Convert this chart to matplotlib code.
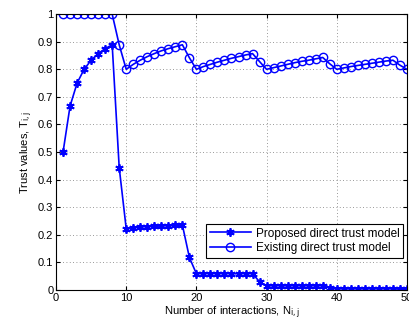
import matplotlib
matplotlib.use("Agg")
import matplotlib.pyplot as plt
import numpy as np

plt.rcParams['font.family'] = ['Liberation Sans', 'DejaVu Sans']

# number of interactions
n = np.arange(1, 51)

# proposed direct trust model
proposed = [0.500, 0.667, 0.750, 0.800, 0.833, 0.857, 0.875, 0.889, 0.444, 0.222,
            0.226, 0.228, 0.230, 0.231, 0.232, 0.233, 0.234, 0.236, 0.118, 0.059,
            0.059, 0.059, 0.059, 0.059, 0.059, 0.059, 0.059, 0.059, 0.030, 0.015,
            0.015, 0.015, 0.015, 0.015, 0.015, 0.015, 0.015, 0.015, 0.008, 0.004,
            0.004, 0.004, 0.004, 0.004, 0.004, 0.004, 0.004, 0.004, 0.003, 0.002]

# existing direct trust model
existing = [1.000, 1.000, 1.000, 1.000, 1.000, 1.000, 1.000, 1.000, 0.889, 0.800,
            0.818, 0.833, 0.846, 0.857, 0.867, 0.875, 0.882, 0.889, 0.842, 0.800,
            0.810, 0.818, 0.826, 0.833, 0.840, 0.846, 0.852, 0.857, 0.828, 0.800,
            0.806, 0.812, 0.818, 0.824, 0.829, 0.833, 0.838, 0.843, 0.820, 0.800,
            0.805, 0.810, 0.814, 0.818, 0.822, 0.826, 0.830, 0.833, 0.815, 0.800]

fig = plt.figure(figsize=(4.09, 3.29), dpi=100)
ax = fig.add_axes([0.137, 0.1185, 0.858, 0.8385])

# asterisk marker: 6 arms
ax.plot(n, proposed, '-', marker=(6, 2, 0), color='blue', lw=1.2, ms=6, mew=1.3,
        label='Proposed direct trust model')
ax.plot(n, existing, '-o', color='blue', lw=1.2, ms=6, mew=1.0,
        mfc='none', label='Existing direct trust model')

ax.set_xlim(0, 50)
ax.set_ylim(0, 1)
ax.set_xticks(np.arange(0, 51, 10))
ax.set_yticks(np.arange(0, 1.01, 0.1))
ax.set_yticklabels(['0', '0.1', '0.2', '0.3', '0.4', '0.5', '0.6', '0.7', '0.8', '0.9', '1'])
ax.tick_params(direction='in', labelsize=8, length=3, top=True, right=True, pad=2)
ax.grid(True, linestyle=(0, (1, 3)), color='#777777', lw=0.6)

ax.set_xlabel('Number of interactions, N$_{\\mathrm{i,j}}$', fontsize=8, labelpad=1)
ax.set_ylabel('Trust values, T$_{\\mathrm{i,j}}$', fontsize=8, labelpad=2)

leg = ax.legend(loc='lower right', bbox_to_anchor=(0.989, 0.116), borderaxespad=0,
                fontsize=8.5, fancybox=False, edgecolor='black', framealpha=1,
                borderpad=0.3, labelspacing=0.25, handlelength=3.5,
                handletextpad=0.4)
leg.get_frame().set_linewidth(0.8)

fig.savefig('out.png', dpi=100)
